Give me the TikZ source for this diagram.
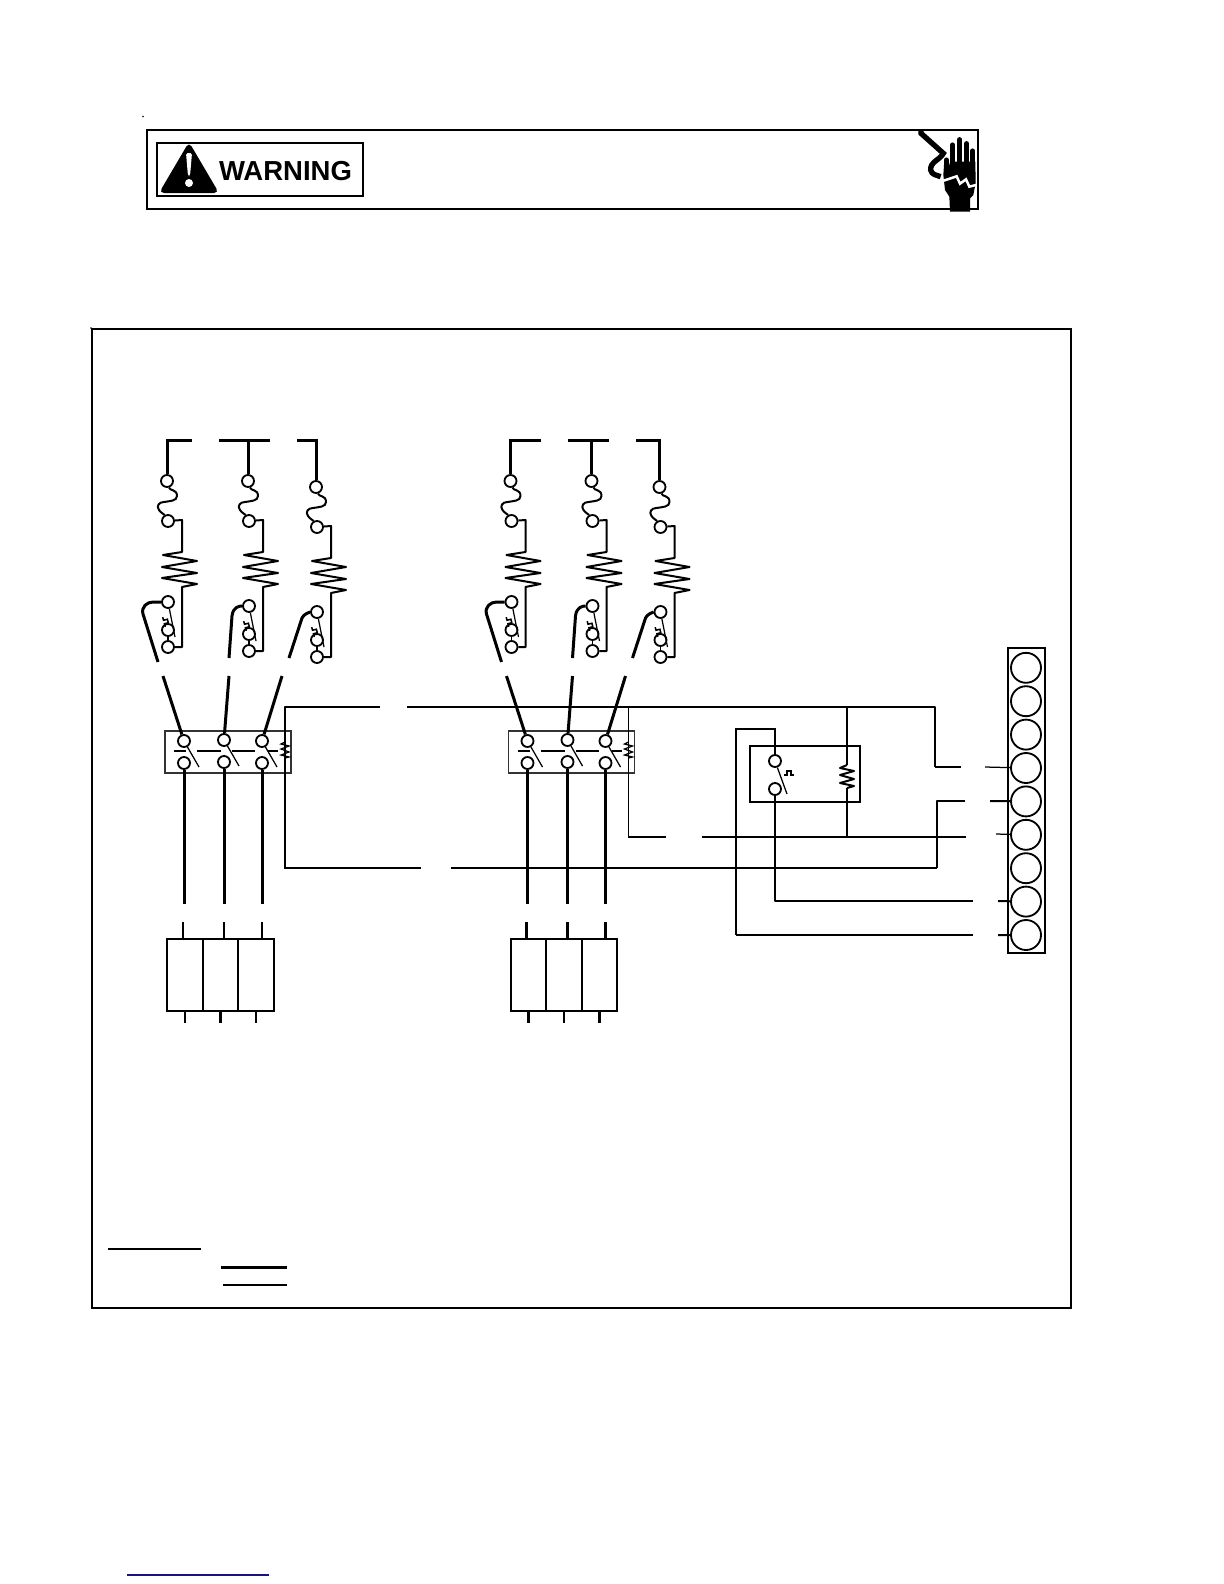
\documentclass[tikz,border=0pt]{standalone}
\usepackage{fontspec}
\setmainfont{Liberation Sans}
\def\u{0.6pt}
\tikzset{
	heavy/.style={line width=1.8pt},
	wire/.style={line width=1.2pt,line join=round},
	fine/.style={line width=0.75pt},
	term/.style={circle,draw,fill=white,line width=1.1pt,inner sep=0pt,minimum size=7.2pt},
	stud/.style={circle,draw,fill=white,line width=1.1pt,inner sep=0pt,minimum size=18pt},
	ctbox/.style={draw,black!80,line width=1.1pt,inner sep=0pt,minimum width=126*\u,minimum height=42*\u},
	heatbox/.style={draw,line width=1.2pt,inner sep=0pt,minimum width=35.5*\u,minimum height=72*\u},
	pics/stepmark/.style={code={\draw[line width=0.9pt] (-5,0) -- (-1.8,0) -- (-1.8,-4) -- (1.8,-4) -- (1.8,0) -- (5,0);}}
}
% one limit leg: fuse, heater, thermal switch and its lead
\newcommand{\heaterleg}[5]{
	\begin{scope}[shift={(#2,#3)}]
		\node[term] (#1f) at (0,0) {};
		\node[term] (#1g) at (1,40) {};
		\node[term] (#1t) at (1,#4) {};
		\node[term] (#1m) at (1,{#4+28}) {};
		\node[term] (#1c) at (1,{#4+45}) {};
		\draw[wire] (#1f) .. controls (3,10) and (10,8) .. (10,15)
			.. controls (10,20) and (3,20) .. (-3,21)
			.. controls (-8,21) and (-11,25) .. (-8,29)
			.. controls (-6,32) and (-3,33) .. (#1g);
		\draw[wire] (#1g) -- (15,39) -- (15,71) -- (-4,74) -- (30,80) -- (-5,86) -- (30,92) -- (-5,97) -- (30,103) -- (15,106) -- (15,{#4+45}) -- (#1c);
		\draw[fine] (#1m) -- (#1c);
		\draw[fine] (#1t) -- (8,{#4+35});
		\pic[rotate=-75] at (-3,{#4+20}) {stepmark};
		\draw[heavy] (#1t.west) #5 coordinate (#1e);
	\end{scope}
}
\begin{document}
\begin{tikzpicture}[x=\u,y=-\u]
	\useasboundingbox (0,0) rectangle (1224,1584);

	% warning banner
	\node[draw,line width=1.2pt,inner sep=0pt,minimum width=831*\u,minimum height=79*\u] (banner) at (562.5,169) {};
	\node[draw,line width=1.4pt,inner sep=0pt,minimum width=206*\u,minimum height=53*\u] (tag) at (260,169.5) {};
	\node[inner sep=0pt] (warn) at (285.5,171.5) {\fontsize{16.5pt}{18pt}\selectfont\bfseries WARNING};
	\fill[rounded corners=3pt] (189,142) -- (219,193) -- (159,193) -- cycle;
	\fill[white,rounded corners=1pt] (186,153) -- (192,153) -- (190,176) -- (188,176) -- cycle;
	\fill[white] (189,183) circle (2.4pt);

	% hand
	\begin{scope}[shift={(890,115)},scale=1/3]
		\draw[line width=3.2pt] (93,45) -- (93,55) -- (160,115) .. controls (150,135) and (120,140) .. (122,165) .. controls (125,180) and (140,180) .. (152,185);
		\fill (162,150) -- (178,150) -- (180,140) -- (256,140) -- (257,205) -- (250,240) -- (240,250) -- (240,290) -- (180,290) -- (178,245) -- (165,225) -- (160,180) -- cycle;
		\draw[line width=3.1pt,line cap=round] (169,135) -- (169,170);
		\draw[line width=3.1pt,line cap=round] (188,90) -- (188,160);
		\draw[line width=3.1pt,line cap=round] (209,74) -- (209,160);
		\draw[line width=3.1pt,line cap=round] (230,86) -- (230,160);
		\draw[line width=3.1pt,line cap=round] (248,108) -- (248,170);
		\draw[white,line width=1.5pt,line join=miter] (155,199) -- (200,184) -- (210,206) -- (228,193) -- (238,215) -- (258,210);
	\end{scope}

	\fill (143,116.5) circle (0.5pt);
	\fill (91,328) circle (0.5pt);

	% main frame
	\node[draw,line width=1.1pt,inner sep=0pt,minimum width=979*\u,minimum height=979*\u] (frame) at (581.5,818.5) {};

	% both stages are the same
	\foreach \g/\dx in {a/0,b/343.5}{
		\begin{scope}[shift={(\dx,0)}]
			\heaterleg{\g1}{167}{481}{121}{-- (-14,121) .. controls (-20,121) and (-26,126) .. (-24,133) -- (-9,181)}
			\heaterleg{\g2}{248}{481}{125}{.. controls (-9,125) and (-15,126) .. (-16,135) -- (-19,177)}
			\heaterleg{\g3}{316}{487}{125}{.. controls (-8,126) and (-12,127) .. (-14,131) -- (-27,171)}

			\node[ctbox] (\g ct) at (228,752) {};
			\coordinate (\g coil) at (285,750);
			\foreach \i/\cx/\uy/\lx/\sx in {1/184/741/183/163,2/224/740/224/229,3/262/741/262/282}{
				\node[term] (\g\i u) at (\cx,\uy) {};
				\node[term] (\g\i l) at (\cx,\uy+22) {};
				\coordinate (\g\i s) at (\sx,676);
				\coordinate (\g\i d) at (\cx,904);
				\coordinate (\g\i k) at (\lx,922);
				\draw[heavy] (\g\i s) -- (\g\i u);
				\draw[heavy] (\g\i l) -- (\g\i d);
				\draw[fine] (\g\i u) -- ({\cx+15},{\uy+26});
			}
			\foreach \xa/\xb in {174/186,197/221,232/255,268/278}{
				\draw[fine] (\xa,751) -- (\xb,751);
			}
			\draw[fine] (285,742) -- (281,744) -- (289,746) -- (281,749) -- (289,752) -- (281,755) -- (289,757) -- (285,758);

			\foreach \i/\cx in {1/184.75,2/220.25,3/255.75}{
				\node[heatbox] (\g\i z) at (\cx,975) {};
				\draw[line width=1.5pt] (\g\i k) -- (\g\i k |- \g\i z.north);
				\draw[line width=1.5pt] (\g\i z.south) -- ++(0,11);
			}
		\end{scope}
	}

	% phase bars
	\coordinate (a1n) at (192,440);
	\coordinate (a2n) at (219,440);
	\coordinate (a2o) at (270,440);
	\coordinate (a3n) at (297,440);
	\coordinate (b1n) at (541,440);
	\coordinate (b2n) at (568,440);
	\coordinate (b2o) at (609,440);
	\coordinate (b3n) at (636,440);
	\draw[heavy] (a1n) -| (a1f);
	\draw[heavy] (a3n) -| (a3f);
	\draw[heavy] (b1n) -| (b1f);
	\draw[heavy] (b3n) -| (b3f);
	\draw[heavy] (a2n) -- (a2o);
	\draw[heavy] (b2n) -- (b2o);
	\draw[heavy] (a2f) -- (a2f |- a2n);
	\draw[heavy] (b2f) -- (b2f |- b2n);

	% terminal strip
	\node[draw,line width=1.4pt,inner sep=0pt,minimum width=37*\u,minimum height=305*\u] (strip) at (1026.5,800.5) {};
	\foreach \i in {1,...,9}{
		\node[stud] (st\i) at (1026,{667.8+33.4*(\i-1)}) {};
	}

	% relay
	\node[draw,line width=1.3pt,inner sep=0pt,minimum width=110*\u,minimum height=56*\u] (relay) at (805,774) {};
	\node[term] (rt) at (775,761) {};
	\node[term] (rb) at (775,789) {};
	\draw[fine] (rt) -- (787,794);
	\pic at (789,775) {stepmark};
	\coordinate (rl) at (736,729);
	\coordinate (rc) at (736,935);
	\coordinate (g9a) at (973,935);
	\coordinate (g9b) at (998,935);
	\coordinate (g8a) at (973,901);
	\coordinate (g8b) at (998,901);
	\draw[fine] (rt) |- (rl) -- (rc);
	\draw[wire] (rc) -- (g9a);
	\draw[wire] (g9b) -- (st9);
	\draw[wire] (rb) |- (g8a);
	\draw[wire] (g8b) -- (st8);

	% control wiring
	\coordinate (c1) at (380,707);
	\coordinate (c2) at (407,707);
	\coordinate (c3) at (421,868);
	\coordinate (c4) at (451,868);
	\coordinate (t1) at (935,767);
	\coordinate (g4a) at (961,767);
	\coordinate (g4b) at (985,767);
	\coordinate (t2) at (937,868);
	\coordinate (t3) at (937,801);
	\coordinate (g5a) at (965,801);
	\coordinate (g5b) at (990,801);
	\coordinate (d1) at (666,837);
	\coordinate (d2) at (702,837);
	\coordinate (g6a) at (966,837);
	\coordinate (g6b) at (996,834);
	\coordinate (rtop) at (847,707);
	\coordinate (rcoil) at (847,765);
	\coordinate (rcoil2) at (847,788);
	\coordinate (rj) at (847,837);

	\draw[wire] (c1) -| (acoil);
	\draw[fine] (acoil) |- (c3);
	\draw[wire] (c2) -| (t1);
	\draw[fine] (t1) -- (g4a);
	\draw[fine] (g4b) -- (st4);
	\draw[fine] (c4) -- (t2);
	\draw[wire] (t2) -- (t3) -- (g5a);
	\draw[wire] (g5b) -- (st5);
	\draw[fine] (bcoil |- c2) -- (bcoil) |- (d1);
	\draw[fine] (d2) -- (g6a);
	\draw[fine] (g6b) -- (st6);
	\draw[fine] (rtop) -- (rcoil);
	\draw[fine] (rcoil2) -- (rj);
	\draw[wire] (rcoil) -- (840,768) -- (854,771) -- (840,775) -- (854,779) -- (840,783) -- (854,786) -- (rcoil2);

	% legend rules
	\coordinate (la) at (108,1249);
	\coordinate (lb) at (201,1249);
	\coordinate (lc) at (221,1267);
	\coordinate (ld) at (287,1267);
	\coordinate (le) at (223,1285);
	\coordinate (lf) at (287,1285);
	\draw[fine] (la) -- (lb);
	\draw[heavy] (lc) -- (ld);
	\draw[wire] (le) -- (lf);

	% link rule at the page foot
	\draw[line width=0.8pt,color={rgb,255:red,20;green,20;blue,130}] (127,1575) -- (269,1575);
\end{tikzpicture}
\end{document}
